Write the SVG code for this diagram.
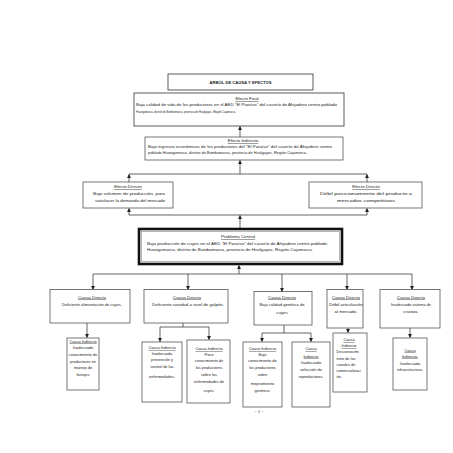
<svg xmlns="http://www.w3.org/2000/svg" width="453" height="453" viewBox="0 0 453 453">
<style>
.box{fill:#fff;stroke:#555;stroke-width:0.8}
.t{font-family:"Liberation Sans",Arial,sans-serif;font-size:4.4px;fill:#222}
.c{text-anchor:middle}
.u{text-decoration:underline}
.s{font-size:3.9px}
.ln{stroke:#222;stroke-width:0.7;fill:none}
</style>
<defs>
<marker id="a" markerUnits="userSpaceOnUse" markerWidth="4" markerHeight="4" refX="3.6" refY="2" orient="auto"><path d="M0,0 L4,2 L0,4 z" fill="#222"/></marker>
</defs>
<rect width="453" height="453" fill="#fff"/>

<g id="connectors">
<path class="ln" d="M240,137 V126.5" marker-end="url(#a)"/>
<path class="ln" d="M129,174 H367"/>
<path class="ln" d="M240,174 V160.5" marker-end="url(#a)"/>
<path class="ln" d="M129,182 V174.5" marker-end="url(#a)"/>
<path class="ln" d="M367,182 V174.5" marker-end="url(#a)"/>
<path class="ln" d="M129,215 H367"/>
<path class="ln" d="M129,215 V208.5" marker-end="url(#a)"/>
<path class="ln" d="M367,215 V208.5" marker-end="url(#a)"/>
<path class="ln" d="M240,228 V215.5" marker-end="url(#a)"/>
<path class="ln" d="M239,274 V265.5" marker-end="url(#a)"/>
<path class="ln" d="M93,274 H412"/>
<path class="ln" d="M93,274 V289.5" marker-end="url(#a)"/>
<path class="ln" d="M188,274 V289.5" marker-end="url(#a)"/>
<path class="ln" d="M282,274 V291.5" marker-end="url(#a)"/>
<path class="ln" d="M347,274 V289.5" marker-end="url(#a)"/>
<path class="ln" d="M412,274 V289.5" marker-end="url(#a)"/>
<path class="ln" d="M87,323 V337.5" marker-end="url(#a)"/>
<path class="ln" d="M183,323 V327 M160,327 H209"/>
<path class="ln" d="M160,327 V341.5" marker-end="url(#a)"/>
<path class="ln" d="M209,327 V339.5" marker-end="url(#a)"/>
<path class="ln" d="M284,325 V333 M262,333 H311"/>
<path class="ln" d="M262,333 V341.5" marker-end="url(#a)"/>
<path class="ln" d="M311,333 V341.5" marker-end="url(#a)"/>
<path class="ln" d="M348,328 V332.5" marker-end="url(#a)"/>
<path class="ln" d="M410,328 V337.5" marker-end="url(#a)"/>
</g>

<g id="titulo">
<rect class="box" x="168" y="74" width="145" height="16" style="stroke:#333"/>
<text class="t c" x="240.5" y="83.5" font-weight="bold" textLength="62" lengthAdjust="spacingAndGlyphs">ARBOL DE CAUSA Y EFECTOS</text>
</g>

<g id="efecto-final">
<rect class="box" x="134" y="93" width="210" height="33" style="stroke:#333"/>
<text class="t c u" x="247" y="100">Efecto Final</text>
<text class="t" x="136" y="106" textLength="201" lengthAdjust="spacingAndGlyphs">Baja calidad de vida de los productores en el AED "El Paraíso" del caserío de Ahijadero centro poblado</text>
<text class="t" x="136" y="112.5" textLength="100" lengthAdjust="spacingAndGlyphs">Huangamarca, distrito de Bambamarca,  provincia de Hualgayoc, Región  Cajamarca.</text>
</g>

<g id="efecto-indirecto">
<rect class="box" x="145" y="137" width="198" height="23"/>
<text class="t c u" x="243" y="142">Efecto Indirecto</text>
<text class="t" x="148" y="147.8" textLength="184" lengthAdjust="spacingAndGlyphs">Bajo  ingresos  económicos de los productores del "El Paraíso" del caserío de Ahijadero centro</text>
<text class="t" x="148" y="153.5" textLength="159" lengthAdjust="spacingAndGlyphs">poblado Huangamarca, distrito de Bambamarca, provincia de Hualgayoc, Región  Cajamarca.</text>
</g>

<g id="efecto-directo-1">
<rect class="box" x="83" y="182" width="90" height="26"/>
<text class="t c u" x="128" y="188">Efecto Directo</text>
<text class="t c" x="129" y="194.8" textLength="72" lengthAdjust="spacingAndGlyphs">Bajo volumen de producción, para</text>
<text class="t c" x="130" y="201.5" textLength="70" lengthAdjust="spacingAndGlyphs">satisfacer la demanda del mercado</text>
</g>

<g id="efecto-directo-2">
<rect class="box" x="309" y="182" width="113" height="26"/>
<text class="t c u" x="366" y="188">Efecto Directo</text>
<text class="t c" x="366" y="194.8" textLength="92" lengthAdjust="spacingAndGlyphs">Débil posicionamiento  del producto a</text>
<text class="t c" x="366" y="201.5" textLength="58" lengthAdjust="spacingAndGlyphs">mercados competitivos</text>
</g>

<g id="problema-central">
<rect x="139" y="229" width="203" height="35" fill="#fff" stroke="#111" stroke-width="2.6"/>
<rect x="141.5" y="231.5" width="198" height="30" fill="none" stroke="#888" stroke-width="0.6"/>
<text class="t c u" x="238" y="238">Problema Central</text>
<text class="t" x="147" y="244.8" textLength="180" lengthAdjust="spacingAndGlyphs">Baja producción de cuyes en el AED "El Paraíso" del caserío de Ahijadero centro poblado</text>
<text class="t" x="147" y="251" textLength="166" lengthAdjust="spacingAndGlyphs">Huangamarca, distrito de Bambamarca,  provincia de Hualgayoc, Región  Cajamarca.</text>
</g>

<g id="causa-directa-1">
<rect class="box" x="50" y="289.5" width="80" height="33.5"/>
<text class="t c u" x="92" y="298.5">Causa Directa</text>
<text class="t c" x="92" y="305.5" textLength="60" lengthAdjust="spacingAndGlyphs">Deficiente  alimentación de cuyes.</text>
</g>

<g id="causa-directa-2">
<rect class="box" x="144" y="289.5" width="84" height="33.5"/>
<text class="t c u" x="187" y="298.5">Causa Directa</text>
<text class="t c" x="188" y="305.5" textLength="72" lengthAdjust="spacingAndGlyphs">Deficiente  sanidad a nivel de galpón.</text>
</g>

<g id="causa-directa-3">
<rect class="box" x="254" y="291.5" width="58" height="33.5"/>
<text class="t c u" x="282" y="298.5">Causa Directa</text>
<text class="t c" x="282" y="305.5" textLength="45" lengthAdjust="spacingAndGlyphs">Baja calidad genética de</text>
<text class="t c" x="282" y="314">cuyes</text>
</g>

<g id="causa-directa-4">
<rect class="box" x="327" y="289.5" width="36" height="38.5"/>
<text class="t c u" x="346" y="298.5">Causa Directa</text>
<text class="t c" x="346" y="305.5">Débil articulación</text>
<text class="t c" x="346" y="312.5">al mercado.</text>
</g>

<g id="causa-directa-5">
<rect class="box" x="380" y="289.5" width="60" height="38.5"/>
<text class="t c u" x="411" y="298.5">Causa Directa</text>
<text class="t c" x="411" y="305.5" textLength="40" lengthAdjust="spacingAndGlyphs">Inadecuado sistema de</text>
<text class="t c" x="411" y="313">crianza.</text>
</g>

<g id="causa-indirecta-1">
<rect class="box" x="67" y="338" width="32" height="52"/>
<text class="t s c u" x="83" y="342.5">Causa Indirecta</text>
<text class="t s c" x="83" y="349.3">Inadecuado</text>
<text class="t s c" x="83" y="356">conocimiento de</text>
<text class="t s c" x="83" y="362.7">productores en</text>
<text class="t s c" x="83" y="369.4">manejo de</text>
<text class="t s c" x="83" y="376.1">forrajes</text>
</g>

<g id="causa-indirecta-2a">
<rect class="box" x="142" y="342" width="40" height="60"/>
<text class="t s c u" x="162" y="349">Causa Indirecta</text>
<text class="t s c" x="162" y="355.2">Inadecuada</text>
<text class="t s c" x="162" y="361.4">prevención  y</text>
<text class="t s c" x="162" y="368">control de las</text>
<text class="t s c" x="162" y="378">enfermedades.</text>
</g>

<g id="causa-indirecta-2b">
<rect class="box" x="187" y="340" width="43" height="63"/>
<text class="t s c u" x="209" y="350">Causa Indirecta</text>
<text class="t s c" x="209" y="355.5">Poco</text>
<text class="t s c" x="209" y="362">conocimiento de</text>
<text class="t s c" x="209" y="369">los productores</text>
<text class="t s c" x="209" y="376">sobre las</text>
<text class="t s c" x="209" y="383">enfermedades  de</text>
<text class="t s c" x="209" y="392">cuyes.</text>
</g>

<g id="causa-indirecta-3a">
<rect class="box" x="243" y="342" width="39" height="65"/>
<text class="t s c u" x="262.5" y="350">Causa Indirecta</text>
<text class="t s c" x="262.5" y="355.5">Bajo</text>
<text class="t s c" x="262.5" y="362">conocimiento de</text>
<text class="t s c" x="262.5" y="369">los productores</text>
<text class="t s c" x="262.5" y="376">sobre</text>
<text class="t s c" x="262.5" y="385">mejoramiento</text>
<text class="t s c" x="262.5" y="392">genético.</text>
</g>

<g id="causa-indirecta-3b">
<rect class="box" x="292" y="342" width="38" height="65"/>
<text class="t s c u" x="311" y="350">Causa</text>
<text class="t s c u" x="311" y="357.5">Indirecta</text>
<text class="t s c" x="311" y="364">Inadecuada</text>
<text class="t s c" x="311" y="371">selección de</text>
<text class="t s c" x="311" y="378">reproductores.</text>
</g>

<g id="causa-indirecta-4">
<rect class="box" x="333" y="333" width="34" height="59"/>
<text class="t s c u" x="349" y="341">Causa</text>
<text class="t s c u" x="349" y="347">Indirecta</text>
<text class="t s" x="336.5" y="353.3">Desconocimi</text>
<text class="t s" x="336.5" y="359.5">ento de los</text>
<text class="t s" x="336.5" y="365.7">canales de</text>
<text class="t s" x="336.5" y="372">comercializaci</text>
<text class="t s" x="336.5" y="378.2">ón.</text>
</g>

<g id="causa-indirecta-5">
<rect class="box" x="393" y="338" width="34" height="52"/>
<text class="t s c u" x="410" y="351.5">Causa</text>
<text class="t s c u" x="410" y="357.5">Indirecta:</text>
<text class="t s c" x="410" y="364.5">Inadecuada</text>
<text class="t s c" x="410" y="371">infraestructura.</text>
</g>

<text class="t" x="259" y="413" text-anchor="middle" font-family="Liberation Serif,serif" style="font-family:'Liberation Serif',serif;font-size:5px">- 1 -</text>
</svg>
